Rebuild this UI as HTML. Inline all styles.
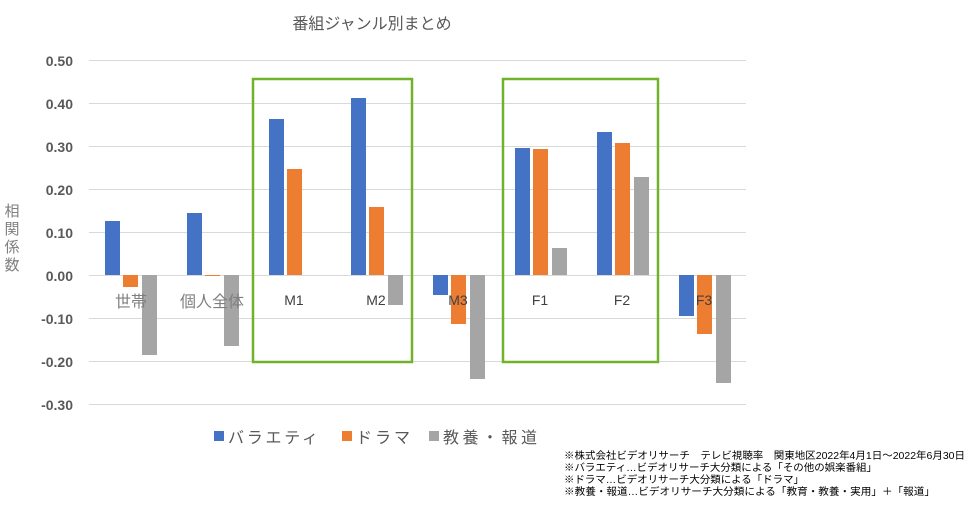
<!DOCTYPE html>
<html><head><meta charset="utf-8"><style>
body{margin:0;background:#fff;width:979px;height:510px;overflow:hidden}
</style></head><body>
<svg width="979" height="510" xmlns="http://www.w3.org/2000/svg" font-family="Liberation Sans, Noto Sans CJK JP, sans-serif">
<rect width="979" height="510" fill="#fff"/>
<text x="372" y="29" font-size="16" fill="#595959" text-anchor="middle">番組ジャンル別まとめ</text>
<g stroke="#d9d9d9" stroke-width="1">
<line x1="89" x2="746" y1="60.5" y2="60.5"/><line x1="89" x2="746" y1="103.5" y2="103.5"/>
<line x1="89" x2="746" y1="146.5" y2="146.5"/><line x1="89" x2="746" y1="189.5" y2="189.5"/>
<line x1="89" x2="746" y1="232.5" y2="232.5"/><line x1="89" x2="746" y1="275.5" y2="275.5"/>
<line x1="89" x2="746" y1="318.5" y2="318.5"/><line x1="89" x2="746" y1="361.5" y2="361.5"/>
<line x1="89" x2="746" y1="404.5" y2="404.5"/>
</g>
<g font-size="14" font-weight="bold" fill="#595959" text-anchor="end">
<text x="73" y="66">0.50</text><text x="73" y="109">0.40</text><text x="73" y="152">0.30</text>
<text x="73" y="195">0.20</text><text x="73" y="238">0.10</text><text x="73" y="281">0.00</text>
<text x="73" y="324">-0.10</text><text x="73" y="367">-0.20</text><text x="73" y="410">-0.30</text>
</g>
<g font-size="15" fill="#7f7f7f" text-anchor="middle">
<text x="12" y="216">相</text><text x="12" y="234">関</text><text x="12" y="252">係</text><text x="12" y="270">数</text>
</g>
<g id="bars">
<rect x="105" y="221" width="15" height="54" fill="#4472c4"/>
<rect x="123" y="275" width="15" height="12" fill="#ed7d31"/>
<rect x="142" y="275" width="15" height="80" fill="#a5a5a5"/>
<rect x="187" y="213" width="15" height="62" fill="#4472c4"/>
<rect x="205" y="275" width="15" height="1" fill="#ed7d31"/>
<rect x="224" y="275" width="15" height="71" fill="#a5a5a5"/>
<rect x="269" y="119" width="15" height="156" fill="#4472c4"/>
<rect x="287" y="169" width="15" height="106" fill="#ed7d31"/>
<rect x="351" y="98" width="15" height="177" fill="#4472c4"/>
<rect x="369" y="207" width="15" height="68" fill="#ed7d31"/>
<rect x="388" y="275" width="15" height="30" fill="#a5a5a5"/>
<rect x="433" y="275" width="15" height="20" fill="#4472c4"/>
<rect x="451" y="275" width="15" height="49" fill="#ed7d31"/>
<rect x="470" y="275" width="15" height="104" fill="#a5a5a5"/>
<rect x="515" y="148" width="15" height="127" fill="#4472c4"/>
<rect x="533" y="149" width="15" height="126" fill="#ed7d31"/>
<rect x="552" y="248" width="15" height="27" fill="#a5a5a5"/>
<rect x="597" y="132" width="15" height="143" fill="#4472c4"/>
<rect x="615" y="143" width="15" height="132" fill="#ed7d31"/>
<rect x="634" y="177" width="15" height="98" fill="#a5a5a5"/>
<rect x="679" y="275" width="15" height="41" fill="#4472c4"/>
<rect x="697" y="275" width="15" height="59" fill="#ed7d31"/>
<rect x="716" y="275" width="15" height="108" fill="#a5a5a5"/>
</g>
<rect x="253" y="79" width="159" height="283" fill="none" stroke="#70b22a" stroke-width="2.5"/>
<rect x="503" y="79" width="155" height="283" fill="none" stroke="#70b22a" stroke-width="2.5"/>
<g font-size="16" fill="#7f7f7f" text-anchor="middle">
<text x="131" y="307">世帯</text><text x="212" y="307">個人全体</text>
</g>
<g font-size="14" fill="#404040" text-anchor="middle">
<text x="294" y="305">M1</text><text x="376" y="305">M2</text><text x="458" y="305">M3</text>
<text x="540" y="305">F1</text><text x="622" y="305">F2</text><text x="704" y="305">F3</text>
</g>
<g font-size="16" fill="#595959">
<rect x="214" y="431" width="10" height="10" fill="#4472c4"/><text x="228" y="443" textLength="90" lengthAdjust="spacing">バラエティ</text>
<rect x="342" y="431" width="10" height="10" fill="#ed7d31"/><text x="356" y="443" textLength="54" lengthAdjust="spacing">ドラマ</text>
<rect x="429" y="431" width="10" height="10" fill="#a5a5a5"/><text x="443" y="443" textLength="94" lengthAdjust="spacing">教養・報道</text>
</g>
<g font-size="10.4" fill="#000">
<text x="564" y="459" textLength="401" lengthAdjust="spacingAndGlyphs">※株式会社ビデオリサーチ　テレビ視聴率　関東地区2022年4月1日～2022年6月30日</text>
<text x="564" y="471" textLength="313" lengthAdjust="spacingAndGlyphs">※バラエティ…ビデオリサーチ大分類による「その他の娯楽番組」</text>
<text x="564" y="483" textLength="240" lengthAdjust="spacingAndGlyphs">※ドラマ…ビデオリサーチ大分類による「ドラマ」</text>
<text x="564" y="495" textLength="371" lengthAdjust="spacingAndGlyphs">※教養・報道…ビデオリサーチ大分類による「教育・教養・実用」＋「報道」</text>
</g>
</svg>
</body></html>
